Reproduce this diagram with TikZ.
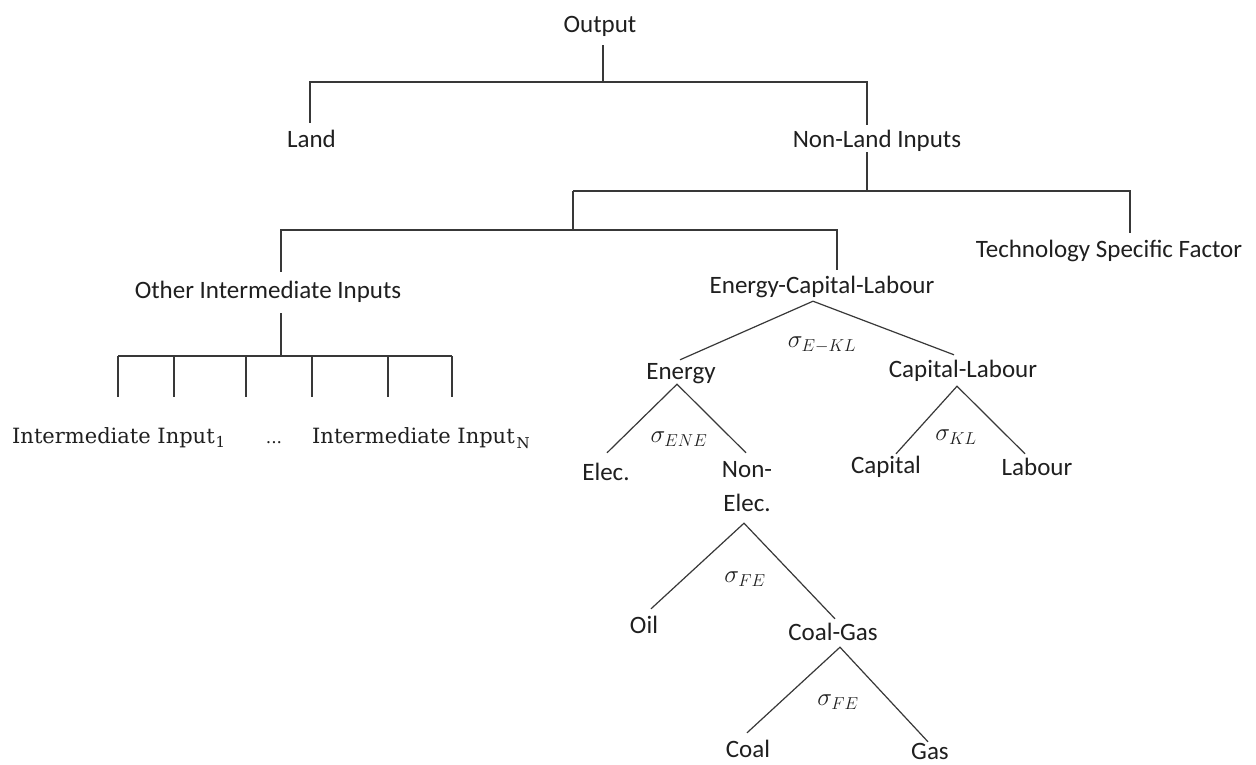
\documentclass[tikz,border=0pt]{standalone}
\usepackage{fontspec}
\setmainfont{Carlito}
\newfontfamily\iifont{DejaVu Serif}
\begin{document}
\begin{tikzpicture}[x=1pt,y=-1pt,
  lbl/.style={font=\fontsize{25}{30}\selectfont, inner sep=0pt, text height=17pt, text depth=5pt, anchor=base, text=black!88},
  sig/.style={font=\fontsize{25}{29}\selectfont, inner sep=0pt, text=black!88},
  ii/.style={font=\iifont\fontsize{21}{24}\selectfont, inner sep=0pt, anchor=base west, text=black!88},
  conn/.style={draw=black!78, line width=1.2pt}]
\useasboundingbox (0,0) rectangle (1256,764);
\fill[white] (0,0) rectangle (1256,764);

% ---- nodes
\node[lbl] (output)   at (600,32)   {Output};
\node[lbl] (land)     at (311.5,147) {Land};
\node[lbl] (nonland)  at (877,147)  {Non-Land Inputs};
\node[lbl] (tech)     at (1109,257) {Technology Specific Factor};
\node[lbl] (oii)      at (268,298)  {Other Intermediate Inputs};
\node[lbl] (ecl)      at (822,293)  {Energy-Capital-Labour};
\node[lbl] (energy)   at (681,379)  {Energy};
\node[lbl] (cl)       at (963,377)  {Capital-Labour};
\node[lbl] (elec)     at (606,480)  {Elec.};
\node[lbl] (nonelec)  at (747,477)  {Non-};
\node[lbl] (nonelecb) at (747,511)  {Elec.};
\node[lbl] (capital)  at (886,473)  {Capital};
\node[lbl] (labour)   at (1037,475) {Labour};
\node[lbl] (oil)      at (644,633)  {Oil};
\node[lbl] (coalgas)  at (833,640)  {Coal-Gas};
\node[lbl] (coal)     at (748,757)  {Coal};
\node[lbl, text depth=0pt] (gas) at (930,759) {Gas};

% ---- elasticity labels
\node[sig] (sekl) at (822,345) {$\sigma_{E-KL}$};
\node[sig] (sene) at (679,439) {$\sigma_{ENE}$};
\node[sig] (skl)  at (956,437) {$\sigma_{KL}$};
\node[sig] (sfe1) at (745,579) {$\sigma_{FE}$};
\node[sig] (sfe2) at (838,702) {$\sigma_{FE}$};

% ---- intermediate inputs
\node[ii] (ii1) at (12,443) {Intermediate Input\kern1pt\raisebox{-4pt}{\fontsize{15}{15}\selectfont 1}};
\node[ii, anchor=base] (dots) at (274,443) {\fontsize{17}{20}\selectfont ...};
\node[ii] (iiN) at (312,443) {Intermediate Input\kern2pt\raisebox{-5pt}{\fontsize{15}{15}\selectfont N}};

% ---- connectors (top part)
\coordinate (j1) at (603,82);
\draw[conn] ([xshift=3pt,yshift=-8pt]output.south) -- (j1);
\draw[conn] ([xshift=-1.5pt,yshift=7pt]land.north) |- (j1) -| ([xshift=-10pt,yshift=5pt]nonland.north);

\coordinate (j2) at (867,191);
\coordinate (j3) at (573,191);
\coordinate (j4) at (573,230);
\draw[conn] ([xshift=-10pt]nonland.south) -- (j2);
\draw[conn] (j3) -- (j2) -| ([xshift=21pt,yshift=7pt]tech.north);
\draw[conn] (j3) -- (j4);
\draw[conn] ([xshift=13pt,yshift=9pt]oii.north) |- (j4) -| ([xshift=15pt,yshift=6pt]ecl.north);

\coordinate (j5) at (281,356);
\draw[conn] ([xshift=13pt,yshift=-10pt]oii.south) -- (j5);
\coordinate (hl) at (118,356);
\coordinate (hr) at (452,356);
\draw[conn] (hl) -- (hr);
\foreach \x [count=\i] in {118,174,246,312,388,452} {
  \coordinate (leaf\i) at (\x,397);
  \draw[conn] (\x,356) -- (leaf\i);
}

% ---- nested CES branches
\draw[conn] ([xshift=-1pt,yshift=2pt]energy.north) -- ([xshift=-9pt,yshift=-3pt]ecl.south) -- ([xshift=-9pt,yshift=5pt]cl.north);
\draw[conn] ([xshift=1pt,yshift=10pt]elec.north) -- ([xshift=-4pt]energy.south) -- ([xshift=-1pt,yshift=7pt]nonelec.north);
\draw[conn] ([xshift=10pt,yshift=2pt]capital.north) -- ([xshift=-6pt,yshift=-4pt]cl.south) -- ([xshift=-12pt,yshift=4pt]labour.north);
\draw[conn] ([xshift=7pt,yshift=7pt]oil.north) -- ([xshift=-3pt,yshift=-7pt]nonelecb.south) -- ([xshift=2pt,yshift=4pt]coalgas.north);
\draw[conn] ([xshift=-1pt,yshift=7pt]coal.north) -- ([xshift=7pt,yshift=-2pt]coalgas.south) -- ([xshift=-2pt,yshift=0pt]gas.north);
\end{tikzpicture}
\end{document}
